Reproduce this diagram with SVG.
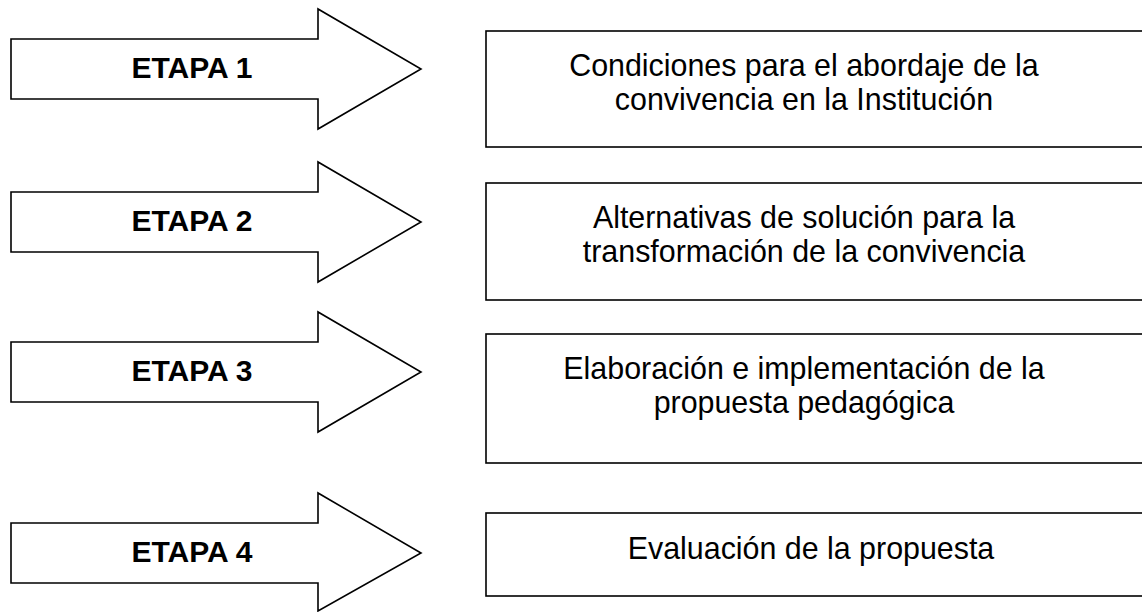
<svg xmlns="http://www.w3.org/2000/svg" width="1142" height="612" viewBox="0 0 1142 612">
<style>
.arrow{fill:#fff;stroke:#000;stroke-width:1.6;stroke-linejoin:miter}
.box{fill:#fff;stroke:#000;stroke-width:1.6}
.lbl{font-family:"Liberation Sans",Arial,sans-serif;font-weight:bold;font-size:30px;text-anchor:middle;fill:#000}
.txt{font-family:"Liberation Sans",Arial,sans-serif;font-size:31.5px;text-anchor:middle;fill:#000}
</style>
<rect width="1142" height="612" fill="#fff"/>
<g id="etapa1">
<polygon class="arrow" points="11,39 318,39 318,9 421,69 318,129 318,99 11,99"/>
<text class="lbl" x="192" y="78">ETAPA 1</text>
</g>
<g id="box1">
<rect class="box" x="486" y="31" width="670" height="116"/>
<g transform="translate(804,0) scale(0.965,1) translate(-804,0)">
<text class="txt" x="804" y="76">Condiciones para el abordaje de la</text>
<text class="txt" x="804" y="110">convivencia en la Institución</text>
</g>
</g>
<g id="etapa2">
<polygon class="arrow" points="11,192 318,192 318,162 421,222 318,282 318,252 11,252"/>
<text class="lbl" x="192" y="231">ETAPA 2</text>
</g>
<g id="box2">
<rect class="box" x="486" y="183" width="670" height="117"/>
<g transform="translate(804,0) scale(0.965,1) translate(-804,0)">
<text class="txt" x="804" y="228">Alternativas de solución para la</text>
<text class="txt" x="804" y="262">transformación de la convivencia</text>
</g>
</g>
<g id="etapa3">
<polygon class="arrow" points="11,342 318,342 318,312 421,372 318,432 318,402 11,402"/>
<text class="lbl" x="192" y="381">ETAPA 3</text>
</g>
<g id="box3">
<rect class="box" x="486" y="334" width="670" height="129"/>
<g transform="translate(804,0) scale(0.965,1) translate(-804,0)">
<text class="txt" x="804" y="379">Elaboración e implementación de la</text>
<text class="txt" x="804" y="413">propuesta pedagógica</text>
</g>
</g>
<g id="etapa4">
<polygon class="arrow" points="11,523 318,523 318,493 421,553 318,611 318,583 11,583"/>
<text class="lbl" x="192" y="562">ETAPA 4</text>
</g>
<g id="box4">
<rect class="box" x="486" y="513" width="670" height="83"/>
<g transform="translate(811,0) scale(0.965,1) translate(-811,0)">
<text class="txt" x="811" y="559">Evaluación de la propuesta</text>
</g>
</g>
<g id="connectors"></g>
</svg>
